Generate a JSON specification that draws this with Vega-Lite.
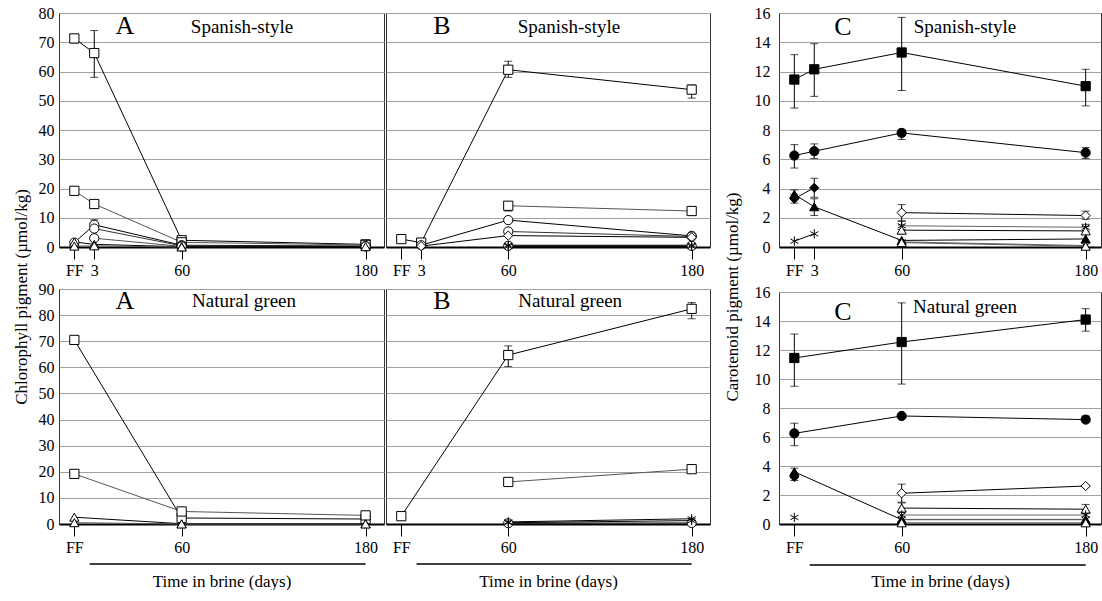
{
"$schema": "https://vega.github.io/schema/vega-lite/v6.json",
"background": "white",
"padding": {"left": 12, "top": 4, "right": 0, "bottom": 0},
"datasets": {"pig": [
{"panel":"A_sp","series":"sq1","day":-10,"value":71.3,"lo":69.8,"hi":72.3},
{"panel":"A_sp","series":"sq1","day":3,"value":66.3,"lo":58.0,"hi":74.0},
{"panel":"A_sp","series":"sq1","day":60,"value":2.3},
{"panel":"A_sp","series":"sq1","day":180,"value":0.9},
{"panel":"A_sp","series":"sq2","day":-10,"value":19.2},
{"panel":"A_sp","series":"sq2","day":3,"value":14.7},
{"panel":"A_sp","series":"sq2","day":60,"value":1.6},
{"panel":"A_sp","series":"sq2","day":180,"value":0.7},
{"panel":"A_sp","series":"ci1","day":-10,"value":1.5},
{"panel":"A_sp","series":"ci1","day":3,"value":7.6,"lo":6.0,"hi":9.3},
{"panel":"A_sp","series":"ci1","day":60,"value":0.6},
{"panel":"A_sp","series":"ci1","day":180,"value":0.3},
{"panel":"A_sp","series":"ci2","day":3,"value":6.3},
{"panel":"A_sp","series":"ci2","day":60,"value":0.4},
{"panel":"A_sp","series":"ci2","day":180,"value":0.2},
{"panel":"A_sp","series":"ci3","day":3,"value":3.0},
{"panel":"A_sp","series":"ci3","day":60,"value":0.2},
{"panel":"A_sp","series":"tr1","day":-10,"value":1.7},
{"panel":"A_sp","series":"tr1","day":3,"value":0.9},
{"panel":"A_sp","series":"tr1","day":60,"value":0.1},
{"panel":"A_sp","series":"tr1","day":180,"value":0.1},
{"panel":"A_sp","series":"tr2","day":-10,"value":0.3},
{"panel":"A_sp","series":"tr2","day":3,"value":0.4},
{"panel":"A_sp","series":"tr2","day":60,"value":0.0},
{"panel":"B_sp","series":"sq1","day":-10,"value":2.7},
{"panel":"B_sp","series":"sq1","day":3,"value":1.5},
{"panel":"B_sp","series":"sq1","day":60,"value":60.6,"lo":58.0,"hi":63.5},
{"panel":"B_sp","series":"sq1","day":180,"value":53.8,"lo":50.9,"hi":55.4},
{"panel":"B_sp","series":"sq2","day":60,"value":14.1,"lo":12.3,"hi":14.8},
{"panel":"B_sp","series":"sq2","day":180,"value":12.3},
{"panel":"B_sp","series":"ci1","day":3,"value":0.6},
{"panel":"B_sp","series":"ci1","day":60,"value":9.2},
{"panel":"B_sp","series":"ci1","day":180,"value":3.8},
{"panel":"B_sp","series":"ci2","day":60,"value":5.3},
{"panel":"B_sp","series":"ci2","day":180,"value":3.6},
{"panel":"B_sp","series":"di1","day":3,"value":0.3},
{"panel":"B_sp","series":"di1","day":60,"value":3.9},
{"panel":"B_sp","series":"di1","day":180,"value":3.3},
{"panel":"B_sp","series":"ci3","day":60,"value":0.4},
{"panel":"B_sp","series":"ci3","day":180,"value":0.4},
{"panel":"B_sp","series":"as1","day":60,"value":0.6},
{"panel":"B_sp","series":"as1","day":180,"value":0.6},
{"panel":"B_sp","series":"as2","day":60,"value":0.2},
{"panel":"B_sp","series":"as2","day":180,"value":0.2},
{"panel":"A_ng","series":"sq1","day":-10,"value":70.5,"lo":69.5,"hi":71.3},
{"panel":"A_ng","series":"sq1","day":60,"value":2.3},
{"panel":"A_ng","series":"sq1","day":180,"value":1.9},
{"panel":"A_ng","series":"sq2","day":-10,"value":19.2},
{"panel":"A_ng","series":"sq2","day":60,"value":4.8},
{"panel":"A_ng","series":"sq2","day":180,"value":3.3},
{"panel":"A_ng","series":"tr1","day":-10,"value":2.6},
{"panel":"A_ng","series":"tr1","day":60,"value":0.1},
{"panel":"A_ng","series":"tr1","day":180,"value":0.1},
{"panel":"A_ng","series":"tr2","day":-10,"value":0.5},
{"panel":"A_ng","series":"tr2","day":60,"value":0.0},
{"panel":"A_ng","series":"tr2","day":180,"value":0.0},
{"panel":"B_ng","series":"sq1","day":-10,"value":3.0},
{"panel":"B_ng","series":"sq1","day":60,"value":64.7,"lo":60.3,"hi":68.2},
{"panel":"B_ng","series":"sq1","day":180,"value":82.4,"lo":78.6,"hi":84.8},
{"panel":"B_ng","series":"sq2","day":60,"value":16.1},
{"panel":"B_ng","series":"sq2","day":180,"value":21.0},
{"panel":"B_ng","series":"ci1","day":60,"value":0.3},
{"panel":"B_ng","series":"ci1","day":180,"value":0.4},
{"panel":"B_ng","series":"as1","day":60,"value":0.8},
{"panel":"B_ng","series":"as1","day":180,"value":2.0},
{"panel":"B_ng","series":"as2","day":60,"value":0.5},
{"panel":"B_ng","series":"as2","day":180,"value":1.3},
{"panel":"C_sp","series":"fsq","day":-10,"value":11.45,"lo":9.5,"hi":13.15},
{"panel":"C_sp","series":"fsq","day":3,"value":12.15,"lo":10.3,"hi":13.9},
{"panel":"C_sp","series":"fsq","day":60,"value":13.3,"lo":10.7,"hi":15.7},
{"panel":"C_sp","series":"fsq","day":180,"value":11.0,"lo":9.65,"hi":12.15},
{"panel":"C_sp","series":"fci","day":-10,"value":6.25,"lo":5.4,"hi":7.0},
{"panel":"C_sp","series":"fci","day":3,"value":6.55,"lo":6.05,"hi":7.05},
{"panel":"C_sp","series":"fci","day":60,"value":7.8,"lo":7.35,"hi":8.05},
{"panel":"C_sp","series":"fci","day":180,"value":6.45,"lo":6.05,"hi":6.8},
{"panel":"C_sp","series":"fdi","day":-10,"value":3.3,"lo":3.0,"hi":3.6},
{"panel":"C_sp","series":"fdi","day":3,"value":4.05,"lo":3.4,"hi":4.7},
{"panel":"C_sp","series":"ftr","day":-10,"value":3.6,"lo":3.35,"hi":3.9},
{"panel":"C_sp","series":"ftr","day":3,"value":2.75,"lo":2.15,"hi":3.3},
{"panel":"C_sp","series":"ftr","day":60,"value":0.45},
{"panel":"C_sp","series":"ftr","day":180,"value":0.55},
{"panel":"C_sp","series":"ast","day":-10,"value":0.4},
{"panel":"C_sp","series":"ast","day":3,"value":0.9},
{"panel":"C_sp","series":"odi","day":60,"value":2.35,"lo":1.8,"hi":2.9},
{"panel":"C_sp","series":"odi","day":180,"value":2.15,"lo":1.9,"hi":2.45},
{"panel":"C_sp","series":"ln1","day":60,"value":1.45,"lo":1.2,"hi":1.75},
{"panel":"C_sp","series":"ln1","day":180,"value":1.35,"lo":1.1,"hi":1.55},
{"panel":"C_sp","series":"otr1","day":60,"value":1.15,"lo":0.9,"hi":1.5},
{"panel":"C_sp","series":"otr1","day":180,"value":1.1,"lo":0.85,"hi":1.4},
{"panel":"C_sp","series":"ln2","day":60,"value":0.35},
{"panel":"C_sp","series":"ln2","day":180,"value":0.1},
{"panel":"C_sp","series":"otr2","day":60,"value":0.3},
{"panel":"C_sp","series":"otr2","day":180,"value":0.05},
{"panel":"C_ng","series":"fsq","day":-10,"value":11.45,"lo":9.5,"hi":13.1},
{"panel":"C_ng","series":"fsq","day":60,"value":12.55,"lo":9.65,"hi":15.25},
{"panel":"C_ng","series":"fsq","day":180,"value":14.1,"lo":13.3,"hi":14.85},
{"panel":"C_ng","series":"fci","day":-10,"value":6.25,"lo":5.4,"hi":6.95},
{"panel":"C_ng","series":"fci","day":60,"value":7.45},
{"panel":"C_ng","series":"fci","day":180,"value":7.2,"lo":7.0,"hi":7.45},
{"panel":"C_ng","series":"fdi","day":-10,"value":3.25,"lo":3.0,"hi":3.5},
{"panel":"C_ng","series":"ftr","day":-10,"value":3.6,"lo":3.35,"hi":3.85},
{"panel":"C_ng","series":"ftr","day":60,"value":0.3},
{"panel":"C_ng","series":"ftr","day":180,"value":0.3},
{"panel":"C_ng","series":"ast","day":-10,"value":0.45},
{"panel":"C_ng","series":"odi","day":60,"value":2.12,"lo":1.5,"hi":2.75},
{"panel":"C_ng","series":"odi","day":180,"value":2.62},
{"panel":"C_ng","series":"otr1","day":60,"value":1.1,"lo":0.8,"hi":1.45},
{"panel":"C_ng","series":"otr1","day":180,"value":1.02,"lo":0.75,"hi":1.35},
{"panel":"C_ng","series":"ln1","day":60,"value":0.62},
{"panel":"C_ng","series":"ln1","day":180,"value":0.62},
{"panel":"C_ng","series":"ln2","day":60,"value":0.32},
{"panel":"C_ng","series":"ln2","day":180,"value":0.32},
{"panel":"C_ng","series":"otr2","day":60,"value":0.08},
{"panel":"C_ng","series":"otr2","day":180,"value":0.08}
]},
"spacing": 12,
"hconcat": [
{
"title": {"text": "Chlorophyll pigment (µmol/kg)", "orient": "left", "anchor": "middle", "offset": 7},
"spacing": 1,
"vconcat": [
{"spacing": 0, "hconcat": [
{"width": 325, "height": 234, "layer": [
 {"data": {"name": "pig"}, "transform": [{"filter": "datum.panel == 'A_sp'"}],
  "encoding": {"x": {"field": "day", "type": "quantitative", "scale": {"domain": [-20, 192], "nice": false, "zero": false}, "axis": {"values": [-10, 3, 60, 180], "labelExpr": "datum.value == -10 ? 'FF' : datum.value", "title": null}}},
  "layer": [
   {"transform": [{"filter": "isValid(datum.lo)"}], "mark": {"type": "rule", "color": "#000", "strokeWidth": 1}, "encoding": {"y": {"field": "lo", "type": "quantitative", "scale": {"domain": [0, 80], "nice": false, "zero": false}, "axis": {"values": [0,10,20,30,40,50,60,70,80], "title": null}}, "y2": {"field": "hi"}}},
   {"transform": [{"filter": "isValid(datum.lo)"}], "mark": {"type": "tick", "orient": "horizontal", "size": 8, "thickness": 1, "color": "#000"}, "encoding": {"y": {"field": "lo", "type": "quantitative", "scale": {"domain": [0, 80], "nice": false, "zero": false}, "axis": {"values": [0,10,20,30,40,50,60,70,80], "title": null}}}},
   {"transform": [{"filter": "isValid(datum.lo)"}], "mark": {"type": "tick", "orient": "horizontal", "size": 8, "thickness": 1, "color": "#000"}, "encoding": {"y": {"field": "hi", "type": "quantitative", "scale": {"domain": [0, 80], "nice": false, "zero": false}, "axis": {"values": [0,10,20,30,40,50,60,70,80], "title": null}}}},
   {"mark": {"type": "line", "strokeWidth": 1}, "encoding": {"y": {"field": "value", "type": "quantitative", "scale": {"domain": [0, 80], "nice": false, "zero": false}, "axis": {"values": [0,10,20,30,40,50,60,70,80], "title": null}}, "detail": {"field": "series"}, "stroke": {"field": "series", "type": "nominal", "legend": null, "scale": {"domain": ["sq1","sq2","ci1","ci2","ci3","tr1","tr2","di1","as1","as2","fsq","fci","fdi","ftr","ast","odi","otr1","otr2","ln1","ln2"], "range": ["#000","#555","#000","#333","#555","#000","#555","#000","#000","#000","#000","#000","#000","#000","#000","#000","#000","#555","#666","#666"]}}}},
   {"mark": {"type": "point", "filled": true, "size": 85, "stroke": "#000", "strokeWidth": 1, "opacity": 1}, "encoding": {"y": {"field": "value", "type": "quantitative", "scale": {"domain": [0, 80], "nice": false, "zero": false}, "axis": {"values": [0,10,20,30,40,50,60,70,80], "title": null}}, "shape": {"field": "series", "type": "nominal", "legend": null, "scale": {"domain": ["sq1","sq2","ci1","ci2","ci3","tr1","tr2","di1","as1","as2","fsq","fci","fdi","ftr","ast","odi","otr1","otr2","ln1","ln2"], "range": ["square","square","circle","circle","circle","triangle-up","triangle-up","diamond","M0,-1L0,1M-0.87,-0.5L0.87,0.5M-0.87,0.5L0.87,-0.5","M0,-1L0,1M-0.87,-0.5L0.87,0.5M-0.87,0.5L0.87,-0.5","square","circle","diamond","triangle-up","M0,-1L0,1M-0.87,-0.5L0.87,0.5M-0.87,0.5L0.87,-0.5","diamond","triangle-up","triangle-up","M0,-1L0,1M-0.87,-0.5L0.87,0.5M-0.87,0.5L0.87,-0.5","M0,-1L0,1M-0.87,-0.5L0.87,0.5M-0.87,0.5L0.87,-0.5"]}}, "fill": {"field": "series", "type": "nominal", "legend": null, "scale": {"domain": ["sq1","sq2","ci1","ci2","ci3","tr1","tr2","di1","as1","as2","fsq","fci","fdi","ftr","ast","odi","otr1","otr2","ln1","ln2"], "range": ["#fff","#fff","#fff","#fff","#fff","#fff","#fff","#fff","#fff","#fff","#000","#000","#000","#000","#fff","#fff","#fff","#fff","#fff","#fff"]}}}}
  ]},
 {"data": {"values": [{"letter": "A", "process": "Spanish-style"}]}, "layer": [
  {"mark": {"type": "text", "fontSize": 26, "baseline": "middle", "align": "center"}, "encoding": {"text": {"field": "letter"}, "x": {"datum": 23.0, "type": "quantitative", "scale": {"domain": [-20, 192], "nice": false, "zero": false}, "axis": {"values": [-10, 3, 60, 180], "labelExpr": "datum.value == -10 ? 'FF' : datum.value", "title": null}}, "y": {"datum": 75.6, "type": "quantitative", "scale": {"domain": [0, 80], "nice": false, "zero": false}, "axis": {"values": [0,10,20,30,40,50,60,70,80], "title": null}}}},
  {"mark": {"type": "text", "fontSize": 19, "baseline": "middle", "align": "center"}, "encoding": {"text": {"field": "process"}, "x": {"datum": 99.4, "type": "quantitative", "scale": {"domain": [-20, 192], "nice": false, "zero": false}, "axis": {"values": [-10, 3, 60, 180], "labelExpr": "datum.value == -10 ? 'FF' : datum.value", "title": null}}, "y": {"datum": 75.2, "type": "quantitative", "scale": {"domain": [0, 80], "nice": false, "zero": false}, "axis": {"values": [0,10,20,30,40,50,60,70,80], "title": null}}}}
 ]}
]},
{"width": 324, "height": 234, "layer": [
 {"data": {"name": "pig"}, "transform": [{"filter": "datum.panel == 'B_sp'"}],
  "encoding": {"x": {"field": "day", "type": "quantitative", "scale": {"domain": [-20, 192], "nice": false, "zero": false}, "axis": {"values": [-10, 3, 60, 180], "labelExpr": "datum.value == -10 ? 'FF' : datum.value", "title": null}}},
  "layer": [
   {"transform": [{"filter": "isValid(datum.lo)"}], "mark": {"type": "rule", "color": "#000", "strokeWidth": 1}, "encoding": {"y": {"field": "lo", "type": "quantitative", "scale": {"domain": [0, 80], "nice": false, "zero": false}, "axis": {"values": [0,10,20,30,40,50,60,70,80], "title": null, "labels": false}}, "y2": {"field": "hi"}}},
   {"transform": [{"filter": "isValid(datum.lo)"}], "mark": {"type": "tick", "orient": "horizontal", "size": 8, "thickness": 1, "color": "#000"}, "encoding": {"y": {"field": "lo", "type": "quantitative", "scale": {"domain": [0, 80], "nice": false, "zero": false}, "axis": {"values": [0,10,20,30,40,50,60,70,80], "title": null, "labels": false}}}},
   {"transform": [{"filter": "isValid(datum.lo)"}], "mark": {"type": "tick", "orient": "horizontal", "size": 8, "thickness": 1, "color": "#000"}, "encoding": {"y": {"field": "hi", "type": "quantitative", "scale": {"domain": [0, 80], "nice": false, "zero": false}, "axis": {"values": [0,10,20,30,40,50,60,70,80], "title": null, "labels": false}}}},
   {"mark": {"type": "line", "strokeWidth": 1}, "encoding": {"y": {"field": "value", "type": "quantitative", "scale": {"domain": [0, 80], "nice": false, "zero": false}, "axis": {"values": [0,10,20,30,40,50,60,70,80], "title": null, "labels": false}}, "detail": {"field": "series"}, "stroke": {"field": "series", "type": "nominal", "legend": null, "scale": {"domain": ["sq1","sq2","ci1","ci2","ci3","tr1","tr2","di1","as1","as2","fsq","fci","fdi","ftr","ast","odi","otr1","otr2","ln1","ln2"], "range": ["#000","#555","#000","#333","#555","#000","#555","#000","#000","#000","#000","#000","#000","#000","#000","#000","#000","#555","#666","#666"]}}}},
   {"mark": {"type": "point", "filled": true, "size": 85, "stroke": "#000", "strokeWidth": 1, "opacity": 1}, "encoding": {"y": {"field": "value", "type": "quantitative", "scale": {"domain": [0, 80], "nice": false, "zero": false}, "axis": {"values": [0,10,20,30,40,50,60,70,80], "title": null, "labels": false}}, "shape": {"field": "series", "type": "nominal", "legend": null, "scale": {"domain": ["sq1","sq2","ci1","ci2","ci3","tr1","tr2","di1","as1","as2","fsq","fci","fdi","ftr","ast","odi","otr1","otr2","ln1","ln2"], "range": ["square","square","circle","circle","circle","triangle-up","triangle-up","diamond","M0,-1L0,1M-0.87,-0.5L0.87,0.5M-0.87,0.5L0.87,-0.5","M0,-1L0,1M-0.87,-0.5L0.87,0.5M-0.87,0.5L0.87,-0.5","square","circle","diamond","triangle-up","M0,-1L0,1M-0.87,-0.5L0.87,0.5M-0.87,0.5L0.87,-0.5","diamond","triangle-up","triangle-up","M0,-1L0,1M-0.87,-0.5L0.87,0.5M-0.87,0.5L0.87,-0.5","M0,-1L0,1M-0.87,-0.5L0.87,0.5M-0.87,0.5L0.87,-0.5"]}}, "fill": {"field": "series", "type": "nominal", "legend": null, "scale": {"domain": ["sq1","sq2","ci1","ci2","ci3","tr1","tr2","di1","as1","as2","fsq","fci","fdi","ftr","ast","odi","otr1","otr2","ln1","ln2"], "range": ["#fff","#fff","#fff","#fff","#fff","#fff","#fff","#fff","#fff","#fff","#000","#000","#000","#000","#fff","#fff","#fff","#fff","#fff","#fff"]}}}}
  ]},
 {"data": {"values": [{"letter": "B", "process": "Spanish-style"}]}, "layer": [
  {"mark": {"type": "text", "fontSize": 26, "baseline": "middle", "align": "center"}, "encoding": {"text": {"field": "letter"}, "x": {"datum": 16.6, "type": "quantitative", "scale": {"domain": [-20, 192], "nice": false, "zero": false}, "axis": {"values": [-10, 3, 60, 180], "labelExpr": "datum.value == -10 ? 'FF' : datum.value", "title": null}}, "y": {"datum": 75.6, "type": "quantitative", "scale": {"domain": [0, 80], "nice": false, "zero": false}, "axis": {"values": [0,10,20,30,40,50,60,70,80], "title": null, "labels": false}}}},
  {"mark": {"type": "text", "fontSize": 19, "baseline": "middle", "align": "center"}, "encoding": {"text": {"field": "process"}, "x": {"datum": 99.7, "type": "quantitative", "scale": {"domain": [-20, 192], "nice": false, "zero": false}, "axis": {"values": [-10, 3, 60, 180], "labelExpr": "datum.value == -10 ? 'FF' : datum.value", "title": null}}, "y": {"datum": 75.2, "type": "quantitative", "scale": {"domain": [0, 80], "nice": false, "zero": false}, "axis": {"values": [0,10,20,30,40,50,60,70,80], "title": null, "labels": false}}}}
 ]}
]}
]},
{"spacing": 0, "hconcat": [
{"width": 325, "height": 235, "layer": [
 {"data": {"name": "pig"}, "transform": [{"filter": "datum.panel == 'A_ng'"}],
  "encoding": {"x": {"field": "day", "type": "quantitative", "scale": {"domain": [-20, 192], "nice": false, "zero": false}, "axis": {"values": [-10, 60, 180], "labelExpr": "datum.value == -10 ? 'FF' : datum.value", "title": "Time in brine (days)"}}},
  "layer": [
   {"transform": [{"filter": "isValid(datum.lo)"}], "mark": {"type": "rule", "color": "#000", "strokeWidth": 1}, "encoding": {"y": {"field": "lo", "type": "quantitative", "scale": {"domain": [0, 90], "nice": false, "zero": false}, "axis": {"values": [0,10,20,30,40,50,60,70,80,90], "title": null}}, "y2": {"field": "hi"}}},
   {"transform": [{"filter": "isValid(datum.lo)"}], "mark": {"type": "tick", "orient": "horizontal", "size": 8, "thickness": 1, "color": "#000"}, "encoding": {"y": {"field": "lo", "type": "quantitative", "scale": {"domain": [0, 90], "nice": false, "zero": false}, "axis": {"values": [0,10,20,30,40,50,60,70,80,90], "title": null}}}},
   {"transform": [{"filter": "isValid(datum.lo)"}], "mark": {"type": "tick", "orient": "horizontal", "size": 8, "thickness": 1, "color": "#000"}, "encoding": {"y": {"field": "hi", "type": "quantitative", "scale": {"domain": [0, 90], "nice": false, "zero": false}, "axis": {"values": [0,10,20,30,40,50,60,70,80,90], "title": null}}}},
   {"mark": {"type": "line", "strokeWidth": 1}, "encoding": {"y": {"field": "value", "type": "quantitative", "scale": {"domain": [0, 90], "nice": false, "zero": false}, "axis": {"values": [0,10,20,30,40,50,60,70,80,90], "title": null}}, "detail": {"field": "series"}, "stroke": {"field": "series", "type": "nominal", "legend": null, "scale": {"domain": ["sq1","sq2","ci1","ci2","ci3","tr1","tr2","di1","as1","as2","fsq","fci","fdi","ftr","ast","odi","otr1","otr2","ln1","ln2"], "range": ["#000","#555","#000","#333","#555","#000","#555","#000","#000","#000","#000","#000","#000","#000","#000","#000","#000","#555","#666","#666"]}}}},
   {"mark": {"type": "point", "filled": true, "size": 85, "stroke": "#000", "strokeWidth": 1, "opacity": 1}, "encoding": {"y": {"field": "value", "type": "quantitative", "scale": {"domain": [0, 90], "nice": false, "zero": false}, "axis": {"values": [0,10,20,30,40,50,60,70,80,90], "title": null}}, "shape": {"field": "series", "type": "nominal", "legend": null, "scale": {"domain": ["sq1","sq2","ci1","ci2","ci3","tr1","tr2","di1","as1","as2","fsq","fci","fdi","ftr","ast","odi","otr1","otr2","ln1","ln2"], "range": ["square","square","circle","circle","circle","triangle-up","triangle-up","diamond","M0,-1L0,1M-0.87,-0.5L0.87,0.5M-0.87,0.5L0.87,-0.5","M0,-1L0,1M-0.87,-0.5L0.87,0.5M-0.87,0.5L0.87,-0.5","square","circle","diamond","triangle-up","M0,-1L0,1M-0.87,-0.5L0.87,0.5M-0.87,0.5L0.87,-0.5","diamond","triangle-up","triangle-up","M0,-1L0,1M-0.87,-0.5L0.87,0.5M-0.87,0.5L0.87,-0.5","M0,-1L0,1M-0.87,-0.5L0.87,0.5M-0.87,0.5L0.87,-0.5"]}}, "fill": {"field": "series", "type": "nominal", "legend": null, "scale": {"domain": ["sq1","sq2","ci1","ci2","ci3","tr1","tr2","di1","as1","as2","fsq","fci","fdi","ftr","ast","odi","otr1","otr2","ln1","ln2"], "range": ["#fff","#fff","#fff","#fff","#fff","#fff","#fff","#fff","#fff","#fff","#000","#000","#000","#000","#fff","#fff","#fff","#fff","#fff","#fff"]}}}}
  ]},
 {"data": {"values": [{"letter": "A", "process": "Natural green"}]}, "layer": [
  {"mark": {"type": "text", "fontSize": 26, "baseline": "middle", "align": "center"}, "encoding": {"text": {"field": "letter"}, "x": {"datum": 23.0, "type": "quantitative", "scale": {"domain": [-20, 192], "nice": false, "zero": false}, "axis": {"values": [-10, 60, 180], "labelExpr": "datum.value == -10 ? 'FF' : datum.value", "title": "Time in brine (days)"}}, "y": {"datum": 85.4, "type": "quantitative", "scale": {"domain": [0, 90], "nice": false, "zero": false}, "axis": {"values": [0,10,20,30,40,50,60,70,80,90], "title": null}}}},
  {"mark": {"type": "text", "fontSize": 19, "baseline": "middle", "align": "center"}, "encoding": {"text": {"field": "process"}, "x": {"datum": 100.7, "type": "quantitative", "scale": {"domain": [-20, 192], "nice": false, "zero": false}, "axis": {"values": [-10, 60, 180], "labelExpr": "datum.value == -10 ? 'FF' : datum.value", "title": "Time in brine (days)"}}, "y": {"datum": 85.4, "type": "quantitative", "scale": {"domain": [0, 90], "nice": false, "zero": false}, "axis": {"values": [0,10,20,30,40,50,60,70,80,90], "title": null}}}},
  {"mark": {"type": "rule", "color": "#000", "strokeWidth": 1.5, "clip": false}, "encoding": {"x": {"datum": 0, "type": "quantitative", "scale": {"domain": [-20, 192], "nice": false, "zero": false}, "axis": {"values": [-10, 60, 180], "labelExpr": "datum.value == -10 ? 'FF' : datum.value", "title": "Time in brine (days)"}}, "x2": {"datum": 180}, "y": {"datum": -15.3, "type": "quantitative", "scale": {"domain": [0, 90], "nice": false, "zero": false}, "axis": {"values": [0,10,20,30,40,50,60,70,80,90], "title": null}}}}
 ]}
]},
{"width": 324, "height": 235, "layer": [
 {"data": {"name": "pig"}, "transform": [{"filter": "datum.panel == 'B_ng'"}],
  "encoding": {"x": {"field": "day", "type": "quantitative", "scale": {"domain": [-20, 192], "nice": false, "zero": false}, "axis": {"values": [-10, 60, 180], "labelExpr": "datum.value == -10 ? 'FF' : datum.value", "title": "Time in brine (days)"}}},
  "layer": [
   {"transform": [{"filter": "isValid(datum.lo)"}], "mark": {"type": "rule", "color": "#000", "strokeWidth": 1}, "encoding": {"y": {"field": "lo", "type": "quantitative", "scale": {"domain": [0, 90], "nice": false, "zero": false}, "axis": {"values": [0,10,20,30,40,50,60,70,80,90], "title": null, "labels": false}}, "y2": {"field": "hi"}}},
   {"transform": [{"filter": "isValid(datum.lo)"}], "mark": {"type": "tick", "orient": "horizontal", "size": 8, "thickness": 1, "color": "#000"}, "encoding": {"y": {"field": "lo", "type": "quantitative", "scale": {"domain": [0, 90], "nice": false, "zero": false}, "axis": {"values": [0,10,20,30,40,50,60,70,80,90], "title": null, "labels": false}}}},
   {"transform": [{"filter": "isValid(datum.lo)"}], "mark": {"type": "tick", "orient": "horizontal", "size": 8, "thickness": 1, "color": "#000"}, "encoding": {"y": {"field": "hi", "type": "quantitative", "scale": {"domain": [0, 90], "nice": false, "zero": false}, "axis": {"values": [0,10,20,30,40,50,60,70,80,90], "title": null, "labels": false}}}},
   {"mark": {"type": "line", "strokeWidth": 1}, "encoding": {"y": {"field": "value", "type": "quantitative", "scale": {"domain": [0, 90], "nice": false, "zero": false}, "axis": {"values": [0,10,20,30,40,50,60,70,80,90], "title": null, "labels": false}}, "detail": {"field": "series"}, "stroke": {"field": "series", "type": "nominal", "legend": null, "scale": {"domain": ["sq1","sq2","ci1","ci2","ci3","tr1","tr2","di1","as1","as2","fsq","fci","fdi","ftr","ast","odi","otr1","otr2","ln1","ln2"], "range": ["#000","#555","#000","#333","#555","#000","#555","#000","#000","#000","#000","#000","#000","#000","#000","#000","#000","#555","#666","#666"]}}}},
   {"mark": {"type": "point", "filled": true, "size": 85, "stroke": "#000", "strokeWidth": 1, "opacity": 1}, "encoding": {"y": {"field": "value", "type": "quantitative", "scale": {"domain": [0, 90], "nice": false, "zero": false}, "axis": {"values": [0,10,20,30,40,50,60,70,80,90], "title": null, "labels": false}}, "shape": {"field": "series", "type": "nominal", "legend": null, "scale": {"domain": ["sq1","sq2","ci1","ci2","ci3","tr1","tr2","di1","as1","as2","fsq","fci","fdi","ftr","ast","odi","otr1","otr2","ln1","ln2"], "range": ["square","square","circle","circle","circle","triangle-up","triangle-up","diamond","M0,-1L0,1M-0.87,-0.5L0.87,0.5M-0.87,0.5L0.87,-0.5","M0,-1L0,1M-0.87,-0.5L0.87,0.5M-0.87,0.5L0.87,-0.5","square","circle","diamond","triangle-up","M0,-1L0,1M-0.87,-0.5L0.87,0.5M-0.87,0.5L0.87,-0.5","diamond","triangle-up","triangle-up","M0,-1L0,1M-0.87,-0.5L0.87,0.5M-0.87,0.5L0.87,-0.5","M0,-1L0,1M-0.87,-0.5L0.87,0.5M-0.87,0.5L0.87,-0.5"]}}, "fill": {"field": "series", "type": "nominal", "legend": null, "scale": {"domain": ["sq1","sq2","ci1","ci2","ci3","tr1","tr2","di1","as1","as2","fsq","fci","fdi","ftr","ast","odi","otr1","otr2","ln1","ln2"], "range": ["#fff","#fff","#fff","#fff","#fff","#fff","#fff","#fff","#fff","#fff","#000","#000","#000","#000","#fff","#fff","#fff","#fff","#fff","#fff"]}}}}
  ]},
 {"data": {"values": [{"letter": "B", "process": "Natural green"}]}, "layer": [
  {"mark": {"type": "text", "fontSize": 26, "baseline": "middle", "align": "center"}, "encoding": {"text": {"field": "letter"}, "x": {"datum": 16.6, "type": "quantitative", "scale": {"domain": [-20, 192], "nice": false, "zero": false}, "axis": {"values": [-10, 60, 180], "labelExpr": "datum.value == -10 ? 'FF' : datum.value", "title": "Time in brine (days)"}}, "y": {"datum": 85.4, "type": "quantitative", "scale": {"domain": [0, 90], "nice": false, "zero": false}, "axis": {"values": [0,10,20,30,40,50,60,70,80,90], "title": null, "labels": false}}}},
  {"mark": {"type": "text", "fontSize": 19, "baseline": "middle", "align": "center"}, "encoding": {"text": {"field": "process"}, "x": {"datum": 100.5, "type": "quantitative", "scale": {"domain": [-20, 192], "nice": false, "zero": false}, "axis": {"values": [-10, 60, 180], "labelExpr": "datum.value == -10 ? 'FF' : datum.value", "title": "Time in brine (days)"}}, "y": {"datum": 85.4, "type": "quantitative", "scale": {"domain": [0, 90], "nice": false, "zero": false}, "axis": {"values": [0,10,20,30,40,50,60,70,80,90], "title": null, "labels": false}}}},
  {"mark": {"type": "rule", "color": "#000", "strokeWidth": 1.5, "clip": false}, "encoding": {"x": {"datum": 0, "type": "quantitative", "scale": {"domain": [-20, 192], "nice": false, "zero": false}, "axis": {"values": [-10, 60, 180], "labelExpr": "datum.value == -10 ? 'FF' : datum.value", "title": "Time in brine (days)"}}, "x2": {"datum": 180}, "y": {"datum": -15.3, "type": "quantitative", "scale": {"domain": [0, 90], "nice": false, "zero": false}, "axis": {"values": [0,10,20,30,40,50,60,70,80,90], "title": null, "labels": false}}}}
 ]}
]}
]}
]
},
{
"title": {"text": "Carotenoid pigment (µmol/kg)", "orient": "left", "anchor": "middle", "offset": 12},
"spacing": 4,
"vconcat": [
{"width": 322, "height": 234, "layer": [
 {"data": {"name": "pig"}, "transform": [{"filter": "datum.panel == 'C_sp'"}],
  "encoding": {"x": {"field": "day", "type": "quantitative", "scale": {"domain": [-20, 190], "nice": false, "zero": false}, "axis": {"values": [-10, 3, 60, 180], "labelExpr": "datum.value == -10 ? 'FF' : datum.value", "title": null}}},
  "layer": [
   {"transform": [{"filter": "isValid(datum.lo)"}], "mark": {"type": "rule", "color": "#000", "strokeWidth": 1}, "encoding": {"y": {"field": "lo", "type": "quantitative", "scale": {"domain": [0, 16], "nice": false, "zero": false}, "axis": {"values": [0,2,4,6,8,10,12,14,16], "title": null, "labelPadding": 9}}, "y2": {"field": "hi"}}},
   {"transform": [{"filter": "isValid(datum.lo)"}], "mark": {"type": "tick", "orient": "horizontal", "size": 8, "thickness": 1, "color": "#000"}, "encoding": {"y": {"field": "lo", "type": "quantitative", "scale": {"domain": [0, 16], "nice": false, "zero": false}, "axis": {"values": [0,2,4,6,8,10,12,14,16], "title": null, "labelPadding": 9}}}},
   {"transform": [{"filter": "isValid(datum.lo)"}], "mark": {"type": "tick", "orient": "horizontal", "size": 8, "thickness": 1, "color": "#000"}, "encoding": {"y": {"field": "hi", "type": "quantitative", "scale": {"domain": [0, 16], "nice": false, "zero": false}, "axis": {"values": [0,2,4,6,8,10,12,14,16], "title": null, "labelPadding": 9}}}},
   {"mark": {"type": "line", "strokeWidth": 1}, "encoding": {"y": {"field": "value", "type": "quantitative", "scale": {"domain": [0, 16], "nice": false, "zero": false}, "axis": {"values": [0,2,4,6,8,10,12,14,16], "title": null, "labelPadding": 9}}, "detail": {"field": "series"}, "stroke": {"field": "series", "type": "nominal", "legend": null, "scale": {"domain": ["sq1","sq2","ci1","ci2","ci3","tr1","tr2","di1","as1","as2","fsq","fci","fdi","ftr","ast","odi","otr1","otr2","ln1","ln2"], "range": ["#000","#555","#000","#333","#555","#000","#555","#000","#000","#000","#000","#000","#000","#000","#000","#000","#000","#555","#666","#666"]}}}},
   {"mark": {"type": "point", "filled": true, "size": 85, "stroke": "#000", "strokeWidth": 1, "opacity": 1}, "encoding": {"y": {"field": "value", "type": "quantitative", "scale": {"domain": [0, 16], "nice": false, "zero": false}, "axis": {"values": [0,2,4,6,8,10,12,14,16], "title": null, "labelPadding": 9}}, "shape": {"field": "series", "type": "nominal", "legend": null, "scale": {"domain": ["sq1","sq2","ci1","ci2","ci3","tr1","tr2","di1","as1","as2","fsq","fci","fdi","ftr","ast","odi","otr1","otr2","ln1","ln2"], "range": ["square","square","circle","circle","circle","triangle-up","triangle-up","diamond","M0,-1L0,1M-0.87,-0.5L0.87,0.5M-0.87,0.5L0.87,-0.5","M0,-1L0,1M-0.87,-0.5L0.87,0.5M-0.87,0.5L0.87,-0.5","square","circle","diamond","triangle-up","M0,-1L0,1M-0.87,-0.5L0.87,0.5M-0.87,0.5L0.87,-0.5","diamond","triangle-up","triangle-up","M0,-1L0,1M-0.87,-0.5L0.87,0.5M-0.87,0.5L0.87,-0.5","M0,-1L0,1M-0.87,-0.5L0.87,0.5M-0.87,0.5L0.87,-0.5"]}}, "fill": {"field": "series", "type": "nominal", "legend": null, "scale": {"domain": ["sq1","sq2","ci1","ci2","ci3","tr1","tr2","di1","as1","as2","fsq","fci","fdi","ftr","ast","odi","otr1","otr2","ln1","ln2"], "range": ["#fff","#fff","#fff","#fff","#fff","#fff","#fff","#fff","#fff","#fff","#000","#000","#000","#000","#fff","#fff","#fff","#fff","#fff","#fff"]}}}}
  ]},
 {"data": {"values": [{"letter": "C", "process": "Spanish-style"}]}, "layer": [
  {"mark": {"type": "text", "fontSize": 26, "baseline": "middle", "align": "center"}, "encoding": {"text": {"field": "letter"}, "x": {"datum": 21.7, "type": "quantitative", "scale": {"domain": [-20, 190], "nice": false, "zero": false}, "axis": {"values": [-10, 3, 60, 180], "labelExpr": "datum.value == -10 ? 'FF' : datum.value", "title": null}}, "y": {"datum": 15.04, "type": "quantitative", "scale": {"domain": [0, 16], "nice": false, "zero": false}, "axis": {"values": [0,2,4,6,8,10,12,14,16], "title": null, "labelPadding": 9}}}},
  {"mark": {"type": "text", "fontSize": 19, "baseline": "middle", "align": "center"}, "encoding": {"text": {"field": "process"}, "x": {"datum": 101.3, "type": "quantitative", "scale": {"domain": [-20, 190], "nice": false, "zero": false}, "axis": {"values": [-10, 3, 60, 180], "labelExpr": "datum.value == -10 ? 'FF' : datum.value", "title": null}}, "y": {"datum": 15.04, "type": "quantitative", "scale": {"domain": [0, 16], "nice": false, "zero": false}, "axis": {"values": [0,2,4,6,8,10,12,14,16], "title": null, "labelPadding": 9}}}}
 ]}
]},
{"width": 322, "height": 232, "layer": [
 {"data": {"name": "pig"}, "transform": [{"filter": "datum.panel == 'C_ng'"}],
  "encoding": {"x": {"field": "day", "type": "quantitative", "scale": {"domain": [-20, 190], "nice": false, "zero": false}, "axis": {"values": [-10, 60, 180], "labelExpr": "datum.value == -10 ? 'FF' : datum.value", "title": "Time in brine (days)"}}},
  "layer": [
   {"transform": [{"filter": "isValid(datum.lo)"}], "mark": {"type": "rule", "color": "#000", "strokeWidth": 1}, "encoding": {"y": {"field": "lo", "type": "quantitative", "scale": {"domain": [0, 16], "nice": false, "zero": false}, "axis": {"values": [0,2,4,6,8,10,12,14,16], "title": null, "labelPadding": 9}}, "y2": {"field": "hi"}}},
   {"transform": [{"filter": "isValid(datum.lo)"}], "mark": {"type": "tick", "orient": "horizontal", "size": 8, "thickness": 1, "color": "#000"}, "encoding": {"y": {"field": "lo", "type": "quantitative", "scale": {"domain": [0, 16], "nice": false, "zero": false}, "axis": {"values": [0,2,4,6,8,10,12,14,16], "title": null, "labelPadding": 9}}}},
   {"transform": [{"filter": "isValid(datum.lo)"}], "mark": {"type": "tick", "orient": "horizontal", "size": 8, "thickness": 1, "color": "#000"}, "encoding": {"y": {"field": "hi", "type": "quantitative", "scale": {"domain": [0, 16], "nice": false, "zero": false}, "axis": {"values": [0,2,4,6,8,10,12,14,16], "title": null, "labelPadding": 9}}}},
   {"mark": {"type": "line", "strokeWidth": 1}, "encoding": {"y": {"field": "value", "type": "quantitative", "scale": {"domain": [0, 16], "nice": false, "zero": false}, "axis": {"values": [0,2,4,6,8,10,12,14,16], "title": null, "labelPadding": 9}}, "detail": {"field": "series"}, "stroke": {"field": "series", "type": "nominal", "legend": null, "scale": {"domain": ["sq1","sq2","ci1","ci2","ci3","tr1","tr2","di1","as1","as2","fsq","fci","fdi","ftr","ast","odi","otr1","otr2","ln1","ln2"], "range": ["#000","#555","#000","#333","#555","#000","#555","#000","#000","#000","#000","#000","#000","#000","#000","#000","#000","#555","#666","#666"]}}}},
   {"mark": {"type": "point", "filled": true, "size": 85, "stroke": "#000", "strokeWidth": 1, "opacity": 1}, "encoding": {"y": {"field": "value", "type": "quantitative", "scale": {"domain": [0, 16], "nice": false, "zero": false}, "axis": {"values": [0,2,4,6,8,10,12,14,16], "title": null, "labelPadding": 9}}, "shape": {"field": "series", "type": "nominal", "legend": null, "scale": {"domain": ["sq1","sq2","ci1","ci2","ci3","tr1","tr2","di1","as1","as2","fsq","fci","fdi","ftr","ast","odi","otr1","otr2","ln1","ln2"], "range": ["square","square","circle","circle","circle","triangle-up","triangle-up","diamond","M0,-1L0,1M-0.87,-0.5L0.87,0.5M-0.87,0.5L0.87,-0.5","M0,-1L0,1M-0.87,-0.5L0.87,0.5M-0.87,0.5L0.87,-0.5","square","circle","diamond","triangle-up","M0,-1L0,1M-0.87,-0.5L0.87,0.5M-0.87,0.5L0.87,-0.5","diamond","triangle-up","triangle-up","M0,-1L0,1M-0.87,-0.5L0.87,0.5M-0.87,0.5L0.87,-0.5","M0,-1L0,1M-0.87,-0.5L0.87,0.5M-0.87,0.5L0.87,-0.5"]}}, "fill": {"field": "series", "type": "nominal", "legend": null, "scale": {"domain": ["sq1","sq2","ci1","ci2","ci3","tr1","tr2","di1","as1","as2","fsq","fci","fdi","ftr","ast","odi","otr1","otr2","ln1","ln2"], "range": ["#fff","#fff","#fff","#fff","#fff","#fff","#fff","#fff","#fff","#fff","#000","#000","#000","#000","#fff","#fff","#fff","#fff","#fff","#fff"]}}}}
  ]},
 {"data": {"values": [{"letter": "C", "process": "Natural green"}]}, "layer": [
  {"mark": {"type": "text", "fontSize": 26, "baseline": "middle", "align": "center"}, "encoding": {"text": {"field": "letter"}, "x": {"datum": 21.7, "type": "quantitative", "scale": {"domain": [-20, 190], "nice": false, "zero": false}, "axis": {"values": [-10, 60, 180], "labelExpr": "datum.value == -10 ? 'FF' : datum.value", "title": "Time in brine (days)"}}, "y": {"datum": 14.62, "type": "quantitative", "scale": {"domain": [0, 16], "nice": false, "zero": false}, "axis": {"values": [0,2,4,6,8,10,12,14,16], "title": null, "labelPadding": 9}}}},
  {"mark": {"type": "text", "fontSize": 19, "baseline": "middle", "align": "center"}, "encoding": {"text": {"field": "process"}, "x": {"datum": 101.3, "type": "quantitative", "scale": {"domain": [-20, 190], "nice": false, "zero": false}, "axis": {"values": [-10, 60, 180], "labelExpr": "datum.value == -10 ? 'FF' : datum.value", "title": "Time in brine (days)"}}, "y": {"datum": 14.97, "type": "quantitative", "scale": {"domain": [0, 16], "nice": false, "zero": false}, "axis": {"values": [0,2,4,6,8,10,12,14,16], "title": null, "labelPadding": 9}}}},
  {"mark": {"type": "rule", "color": "#000", "strokeWidth": 1.5, "clip": false}, "encoding": {"x": {"datum": 0, "type": "quantitative", "scale": {"domain": [-20, 190], "nice": false, "zero": false}, "axis": {"values": [-10, 60, 180], "labelExpr": "datum.value == -10 ? 'FF' : datum.value", "title": "Time in brine (days)"}}, "x2": {"datum": 180}, "y": {"datum": -2.83, "type": "quantitative", "scale": {"domain": [0, 16], "nice": false, "zero": false}, "axis": {"values": [0,2,4,6,8,10,12,14,16], "title": null, "labelPadding": 9}}}}
 ]}
]}
]
}
],
"config": {
 "font": "Liberation Serif",
 "view": {"stroke": "#333", "strokeWidth": 1},
 "text": {"font": "Liberation Serif", "color": "#000"},
 "axis": {"labelFont": "Liberation Serif", "labelFontSize": 16, "labelColor": "#000", "titleFont": "Liberation Serif", "titleFontSize": 17, "titleFontWeight": "normal", "titleColor": "#000", "gridColor": "#a0a0a0", "gridWidth": 1},
 "axisX": {"grid": false, "domain": true, "domainColor": "#000", "domainWidth": 2, "ticks": true, "tickSize": 12, "tickColor": "#000", "tickWidth": 1, "labelPadding": 3, "labelFlush": false, "labelOverlap": false, "titlePadding": 18},
 "axisY": {"grid": true, "domain": false, "ticks": false, "labelPadding": 5},
 "title": {"font": "Liberation Serif", "fontSize": 17, "fontWeight": "normal", "color": "#000"}
}
}
